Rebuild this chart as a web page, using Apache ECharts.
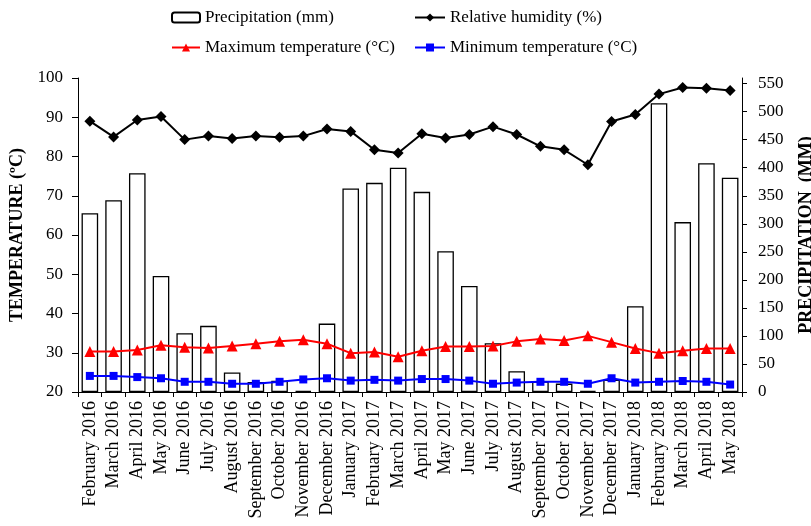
<!DOCTYPE html>
<html><head><meta charset="utf-8">
<script src="https://cdn.jsdelivr.net/npm/echarts@6/dist/echarts.min.js"></script>
<style>html,body{margin:0;padding:0;background:#fff}#c{width:811px;height:526px}</style>
</head><body><div id="c"></div>
<script>
const categories = ['February 2016','March 2016','April 2016','May 2016','June 2016','July 2016','August 2016','September 2016','October 2016','November 2016','December 2016','January 2017','February 2017','March 2017','April 2017','May 2017','June 2017','July 2017','August 2017','September 2017','October 2017','November 2017','December 2017','January 2018','February 2018','March 2018','April 2018','May 2018'];
const precipitation = [319,342,390,207,105,118,35,18,20,2,122,363,373,400,357,251,189,87,37,19,15,2,22,153,515,303,408,382];
const humidity = [89.0,85.0,89.3,90.2,84.3,85.2,84.6,85.2,84.9,85.2,87.0,86.4,81.7,80.9,85.8,84.7,85.6,87.6,85.6,82.6,81.7,77.9,88.9,90.7,95.9,97.6,97.4,96.8];
const tmax = [30.3,30.3,30.7,31.9,31.4,31.2,31.7,32.3,32.9,33.3,32.3,29.9,30.2,29.0,30.5,31.6,31.6,31.7,32.9,33.5,33.1,34.3,32.7,31.1,29.9,30.5,31.1,31.1];
const tmin = [24.1,24.1,23.8,23.5,22.6,22.6,22.1,22.1,22.6,23.2,23.5,22.9,23.1,22.9,23.3,23.3,22.9,22.1,22.4,22.6,22.6,22.1,23.5,22.4,22.6,22.8,22.6,21.9];
const tempTicks = [20,30,40,50,60,70,80,90,100];
const precipTicks = [0,50,100,150,200,250,300,350,400,450,500,550];

const F = '"Liberation Serif","Times New Roman",serif';
const chart = echarts.init(document.getElementById('c'));
const legendBase = {orient:'horizontal', padding:0, itemGap:4, itemHeight:10,
  textStyle:{fontFamily:F, fontSize:17, color:'#000'}, selectedMode:false};
function lg(left, top, w, name){ return Object.assign({}, legendBase, {left:left, top:top, itemWidth:w, data:[name]}); }
chart.setOption({
  animation:false,
  legend:[
    lg(171, 9, 28, 'Precipitation (mm)'),
    lg(414, 9, 30, 'Relative humidity (%)'),
    lg(171, 39, 28, 'Maximum temperature (°C)'),
    lg(414, 39, 30, 'Minimum temperature (°C)')
  ],
  grid:{left:78, right:69, top:78, bottom:134, containLabel:false, outerBoundsMode:'none'},
  xAxis:{type:'category', data:categories, boundaryGap:true,
    axisLine:{lineStyle:{color:'#000', width:1}},
    axisTick:{show:true, alignWithLabel:false, inside:false, length:5, lineStyle:{color:'#000'}},
    axisLabel:{rotate:90, interval:0, fontFamily:F, fontSize:18, color:'#000', margin:9}},
  yAxis:[
    {type:'value', min:20, max:100, interval:10, position:'left',
     name:'TEMPERATURE (ºC)', nameLocation:'middle', nameGap:46, nameRotate:90,
     nameTextStyle:{fontFamily:F, fontSize:18, fontWeight:'bold', color:'#000'},
     axisLine:{show:true, lineStyle:{color:'#000'}},
     axisTick:{show:true, length:6, lineStyle:{color:'#000'}},
     splitLine:{show:false},
     axisLabel:{fontFamily:F, fontSize:17, color:'#000', margin:15}},
    {type:'value', min:0, max:560, interval:50, position:'right',
     name:'PRECIPITATION  (MM)', nameLocation:'middle', nameGap:55, nameRotate:90,
     nameTextStyle:{fontFamily:F, fontSize:18, fontWeight:'bold', color:'#000'},
     axisLine:{show:true, lineStyle:{color:'#000'}},
     axisTick:{show:true, length:5, customValues:precipTicks, lineStyle:{color:'#000'}},
     splitLine:{show:false},
     axisLabel:{fontFamily:F, fontSize:17, color:'#000', margin:16, customValues:precipTicks}}
  ],
  series:[
    {name:'Precipitation (mm)', type:'bar', yAxisIndex:1, data:precipitation, barWidth:'70%',
     itemStyle:{color:'#fff', borderColor:'#000', borderWidth:1.3}, z:1},
    {name:'Relative humidity (%)', type:'line', yAxisIndex:0, data:humidity,
     symbol:'diamond', symbolSize:11, lineStyle:{color:'#000', width:2}, itemStyle:{color:'#000'}, z:3},
    {name:'Maximum temperature (°C)', type:'line', yAxisIndex:0, data:tmax,
     symbol:'triangle', symbolSize:11, lineStyle:{color:'#ff0000', width:2}, itemStyle:{color:'#ff0000'}, z:3},
    {name:'Minimum temperature (°C)', type:'line', yAxisIndex:0, data:tmin,
     symbol:'rect', symbolSize:8, lineStyle:{color:'#0000ff', width:2}, itemStyle:{color:'#0000ff'}, z:3}
  ]
});
</script></body></html>
